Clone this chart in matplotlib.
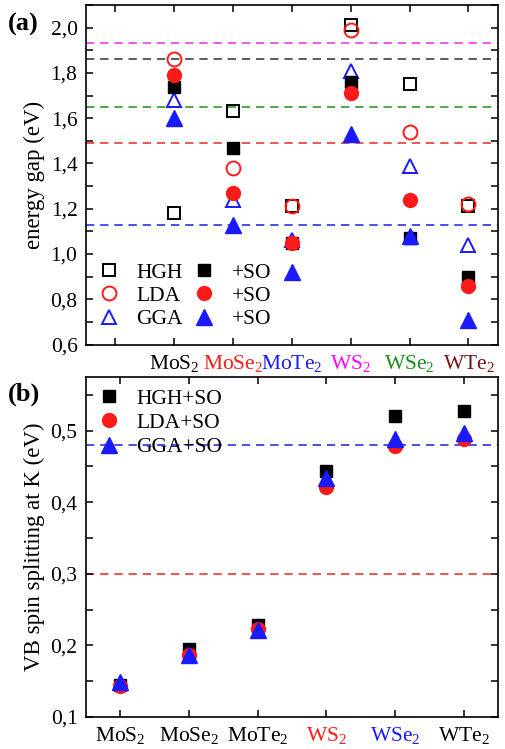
import numpy as np
import matplotlib
matplotlib.use("Agg")
import matplotlib.pyplot as plt
from matplotlib.ticker import FuncFormatter, MultipleLocator

plt.rcParams['font.family'] = ['Liberation Serif', 'DejaVu Serif']
plt.rcParams['mathtext.fontset'] = 'custom'
plt.rcParams['mathtext.rm'] = 'Liberation Serif'
plt.rcParams['mathtext.it'] = 'Liberation Serif:italic'

# categories
materials = ['MoS$_2$', 'MoSe$_2$', 'MoTe$_2$', 'WS$_2$', 'WSe$_2$', 'WTe$_2$']
colors_a = ['black', '#ff1a1a', '#1a1aff', '#ff00ff', '#1a8c1a', '#7a0f0f']
colors_b = ['black', 'black', 'black', '#ff1a1a', '#1a1aff', 'black']

# (a) energy gaps (eV)
hgh = [1.18, 1.63, 1.21, 2.01, 1.75, 1.21]
hgh_so = [1.74, 1.47, 1.05, 1.76, 1.07, 0.90]
lda = [1.86, 1.38, 1.21, 1.99, 1.54, 1.22]
lda_so = [1.79, 1.27, 1.05, 1.71, 1.24, 0.86]
gga = [1.68, 1.24, 1.06, 1.81, 1.39, 1.04]
gga_so = [1.60, 1.13, 0.92, 1.53, 1.08, 0.71]
# reference gap lines (eV)
ref_gaps = [1.93, 1.86, 1.65, 1.49, 1.13]
ref_gap_colors = ['#e83ee8', '#404040', '#2e9a2e', '#e83a3a', '#2e2ee8']

# (b) VB spin splitting at K (eV)
hgh_split = [0.145, 0.195, 0.228, 0.444, 0.520, 0.527]
lda_split = [0.144, 0.186, 0.223, 0.422, 0.478, 0.488]
gga_split = [0.149, 0.186, 0.221, 0.434, 0.488, 0.497]
ref_split = [0.48, 0.30]
ref_split_colors = ['#2e2ee8', '#e83a3a']

comma = FuncFormatter(lambda v, p: ('%.1f' % v).replace('.', ','))

fig = plt.figure(figsize=(5.05, 7.49), dpi=100)
ax1 = fig.add_axes([0.170, 0.540, 0.816, 0.4533])
ax2 = fig.add_axes([0.170, 0.0427, 0.816, 0.454])

for ax in (ax1, ax2):
    for s in ax.spines.values():
        s.set_linewidth(1.2)
    ax.tick_params(which='both', direction='in', top=True, right=True,
                   labelsize=15.5, width=1.1, pad=6, length=5)

# panel (a)
xa = np.arange(1, 7)
for y, c in zip(ref_gaps, ref_gap_colors):
    ax1.axhline(y, color=c, ls=(0, (5, 3.5)), lw=1.2, zorder=1)

ms = 9
ax1.plot(xa, hgh, 's', ms=ms, mfc='none', mec='black', mew=1.4, ls='none', label='HGH')
ax1.plot(xa, lda, 'o', ms=ms + 1, mfc='none', mec='#ff1a1a', mew=1.4, ls='none', label='LDA')
ax1.plot(xa, gga, '^', ms=ms + 1, mfc='none', mec='#1a1aff', mew=1.4, ls='none', label='GGA')
ax1.plot(xa, hgh_so, 's', ms=ms, color='black', ls='none', label='+SO')
ax1.plot(xa, lda_so, 'o', ms=ms + 1, color='#ff1a1a', ls='none', label='+SO')
ax1.plot(xa, gga_so, '^', ms=ms + 2, color='#1a1aff', ls='none', label='+SO')

ax1.set_xlim(-0.5, 6.5)
ax1.set_ylim(0.6, 2.1)
ax1.set_xticks(np.arange(0, 7))
ax1.set_xticklabels([''] + materials, fontsize=15.5)
for lbl, c in zip(ax1.get_xticklabels()[1:], colors_a):
    lbl.set_color(c)
ax1.yaxis.set_major_locator(MultipleLocator(0.2))
ax1.yaxis.set_minor_locator(MultipleLocator(0.1))
ax1.yaxis.set_major_formatter(comma)
ax1.set_ylabel('energy gap (eV)', fontsize=16.5, labelpad=4)
ax1.legend(ncol=2, loc='lower left', bbox_to_anchor=(0.029, 0.045), frameon=False,
           fontsize=15.5, handletextpad=0.8, columnspacing=0.45, labelspacing=0.15,
           handlelength=1.0, borderpad=0, borderaxespad=0)
fig.text(0.016, 0.967, '(a)', fontsize=19, fontweight='bold', va='center')

# panel (b)
xb = np.arange(0, 6)
for y, c in zip(ref_split, ref_split_colors):
    ax2.axhline(y, color=c, ls=(0, (5, 3.5)), lw=1.2, zorder=1)
ax2.plot(xb, hgh_split, 's', ms=ms, color='black', ls='none', label='HGH+SO')
ax2.plot(xb, lda_split, 'o', ms=ms + 1, color='#ff1a1a', ls='none', label='LDA+SO')
ax2.plot(xb, gga_split, '^', ms=ms + 2, color='#1a1aff', ls='none', label='GGA+SO')

ax2.set_xlim(-0.5, 5.5)
ax2.set_ylim(0.1, 0.575)
ax2.set_xticks(xb)
ax2.set_xticklabels(materials, fontsize=15.5)
for lbl, c in zip(ax2.get_xticklabels(), colors_b):
    lbl.set_color(c)
ax2.yaxis.set_major_locator(MultipleLocator(0.1))
ax2.yaxis.set_minor_locator(MultipleLocator(0.05))
ax2.yaxis.set_major_formatter(comma)
ax2.set_ylabel('VB spin splitting at K (eV)', fontsize=16.5, labelpad=4)
ax2.legend(loc='upper left', bbox_to_anchor=(0.029, 0.966), frameon=False,
           fontsize=15.5, handletextpad=0.8, labelspacing=0.2, handlelength=1.0,
           borderpad=0, borderaxespad=0)
fig.text(0.016, 0.474, '(b)', fontsize=19, fontweight='bold', va='center')

fig.savefig('out.png', dpi=100)
